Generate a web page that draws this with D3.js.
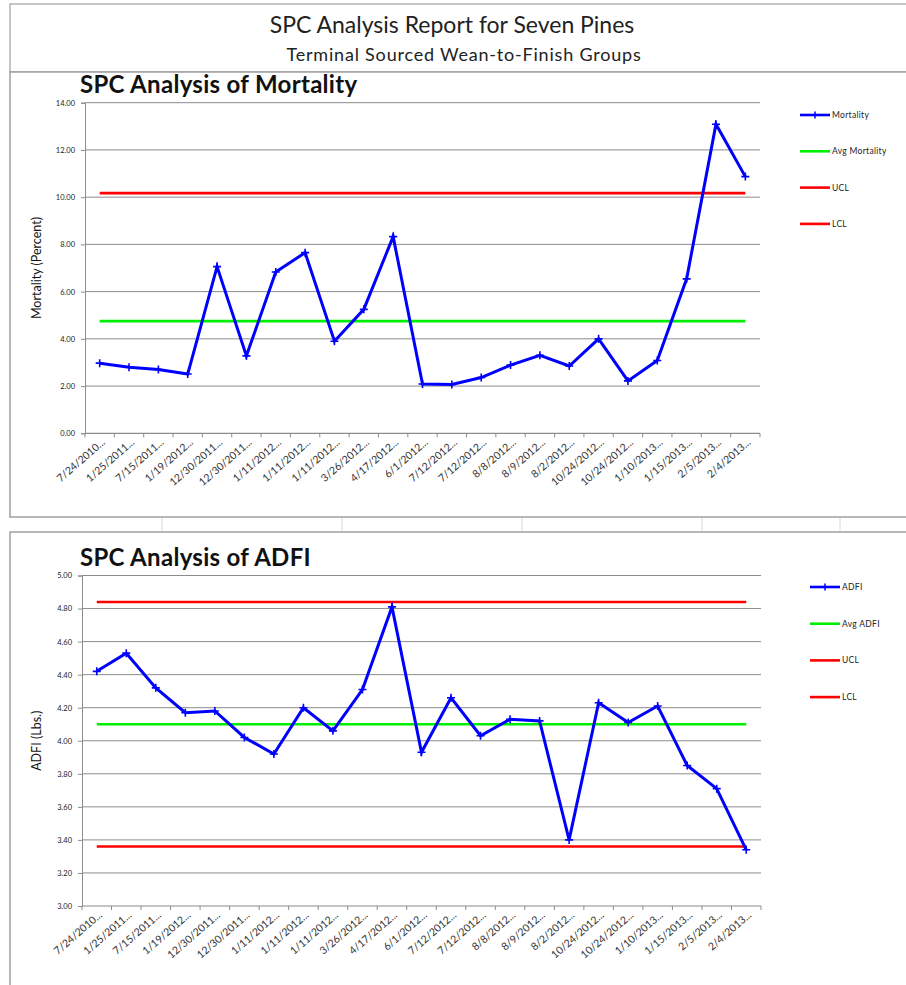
<!DOCTYPE html>
<html>
<head>
<meta charset="utf-8">
<script src="https://cdn.jsdelivr.net/npm/d3@7/dist/d3.min.js"></script>
<style>
  body { margin: 0; background: #fff; }
  svg { display: block; font-family: Lato, "Open Sans", sans-serif; }
</style>
</head>
<body>
<div id="chart"></div>
<script>
// categories (truncated group close dates as shown on the axis)
const groups = [
  "7/24/2010...", "1/25/2011...", "7/15/2011...", "1/19/2012...", "12/30/2011...",
  "12/30/2011...", "1/11/2012...", "1/11/2012...", "1/11/2012...", "3/26/2012...",
  "4/17/2012...", "6/1/2012...", "7/12/2012...", "7/12/2012...", "8/8/2012...",
  "8/9/2012...", "8/2/2012...", "10/24/2012...", "10/24/2012...", "1/10/2013...",
  "1/15/2013...", "2/5/2013...", "2/4/2013..."
];

// mortality (percent)
const mortality = [2.97, 2.80, 2.70, 2.51, 7.06, 3.28, 6.83, 7.65, 3.90, 5.25,
  8.33, 2.09, 2.07, 2.36, 2.89, 3.30, 2.85, 4.00, 2.22, 3.08, 6.54, 13.09, 10.87];
const mortalityAvg = 4.75;
const mortalityUcl = 10.17;
const mortalityLcl = -0.67;
const mortalityTicks = [0, 2, 4, 6, 8, 10, 12, 14];

// ADFI (lbs.)
const adfi = [4.42, 4.53, 4.32, 4.17, 4.18, 4.02, 3.92, 4.20, 4.06, 4.31,
  4.81, 3.93, 4.26, 4.03, 4.13, 4.12, 3.40, 4.23, 4.11, 4.21, 3.85, 3.71, 3.34];
const adfiAvg = 4.10;
const adfiUcl = 4.84;
const adfiLcl = 3.36;
const adfiTicks = [3.0, 3.2, 3.4, 3.6, 3.8, 4.0, 4.2, 4.4, 4.6, 4.8, 5.0];

const width = 906;
const height = 985;

const svg = d3.select("#chart").append("svg")
  .attr("width", width)
  .attr("height", height);

// page frame + header
svg.append("rect")
  .attr("x", 10).attr("y", 4).attr("width", 900).attr("height", 68)
  .attr("fill", "none").attr("stroke", "#a0a0a0").attr("stroke-width", 1.2);

svg.append("text")
  .attr("x", 452).attr("y", 33)
  .attr("text-anchor", "middle")
  .attr("font-size", "23px")
  .attr("fill", "#222")
  .text("SPC Analysis Report for Seven Pines");

svg.append("text")
  .attr("x", 464).attr("y", 61)
  .attr("text-anchor", "middle")
  .attr("font-size", "18px")
  .attr("letter-spacing", "0.8px")
  .attr("fill", "#222")
  .text("Terminal Sourced Wean-to-Finish Groups");

// faint spreadsheet cells between the two charts
const cellLines = [162, 342, 522, 702, 840];
svg.append("g").selectAll("line")
  .data(cellLines)
  .join("line")
  .attr("x1", d => d).attr("x2", d => d)
  .attr("y1", 518).attr("y2", 531)
  .attr("stroke", "#d8d8d8");

function drawPanel(cfg) {
  const g = svg.append("g");

  // chart box
  g.append("rect")
    .attr("x", 10).attr("y", cfg.boxTop).attr("width", 900).attr("height", cfg.boxHeight)
    .attr("fill", "#fff").attr("stroke", "#a0a0a0").attr("stroke-width", 1.5);

  g.append("text")
    .attr("x", 80).attr("y", cfg.titleY)
    .attr("font-size", "24px")
    .attr("font-weight", "bold")
    .attr("letter-spacing", "0.3px")
    .attr("fill", "#111")
    .text(cfg.title);

  const x = d3.scaleBand()
    .domain(d3.range(groups.length))
    .range([cfg.left, cfg.right])
    .padding(0);

  const y = d3.scaleLinear()
    .domain(cfg.domain)
    .range([cfg.bottom, cfg.top]);

  const cx = i => x(i) + x.bandwidth() / 2;

  // gridlines
  g.append("g")
    .selectAll("line")
    .data(cfg.ticks.slice(1))
    .join("line")
    .attr("x1", cfg.left).attr("x2", cfg.right)
    .attr("y1", d => y(d)).attr("y2", d => y(d))
    .attr("stroke", "#8c8c8c").attr("stroke-width", 1);

  // y axis
  const yAxis = g.append("g")
    .attr("transform", `translate(${cfg.left},0)`)
    .call(d3.axisLeft(y).tickValues(cfg.ticks).tickFormat(d3.format(".2f")).tickSize(4).tickPadding(6));
  yAxis.select(".domain").attr("stroke", "#8c8c8c");
  yAxis.selectAll(".tick line").attr("stroke", "#8c8c8c");
  yAxis.selectAll("text")
    .attr("font-size", "7.5px")
    .attr("font-family", "Lato, sans-serif")
    .attr("fill", "#222");

  // x axis (ticks between categories)
  const xAxis = g.append("g")
    .attr("transform", `translate(0,${cfg.bottom})`);
  xAxis.append("line")
    .attr("x1", cfg.left).attr("x2", cfg.right)
    .attr("stroke", "#8c8c8c").attr("stroke-width", 1.2);
  xAxis.selectAll(".xt")
    .data(d3.range(groups.length + 1))
    .join("line")
    .attr("class", "xt")
    .attr("x1", i => cfg.left + i * x.bandwidth())
    .attr("x2", i => cfg.left + i * x.bandwidth())
    .attr("y1", 0).attr("y2", 4)
    .attr("stroke", "#8c8c8c");
  xAxis.selectAll("text")
    .data(groups)
    .join("text")
    .attr("transform", (d, i) => `translate(${cx(i) + 6},${10}) rotate(-41)`)
    .attr("text-anchor", "end")
    .attr("font-size", "10.5px")
    .attr("fill", "#333")
    .text(d => d);

  // y axis title
  g.append("text")
    .attr("transform", `translate(${cfg.yTitleX},${(cfg.top + cfg.bottom) / 2}) rotate(-90)`)
    .attr("text-anchor", "middle")
    .attr("font-size", "12.5px")
    .attr("fill", "#111")
    .text(cfg.yTitle);

  // clip for control limits outside the axis range
  const clipId = "clip-" + cfg.key;
  g.append("clipPath").attr("id", clipId)
    .append("rect")
    .attr("x", cfg.left).attr("y", cfg.top - 2)
    .attr("width", cfg.right - cfg.left).attr("height", cfg.bottom - cfg.top + 2);

  const plot = g.append("g").attr("clip-path", `url(#${clipId})`);

  const line = d3.line()
    .x((d, i) => cx(i))
    .y(d => y(d));

  const limits = [
    { name: "UCL", value: cfg.ucl, color: "#ff0000" },
    { name: "LCL", value: cfg.lcl, color: "#ff0000" },
    { name: cfg.avgName, value: cfg.avg, color: "#00ee00" }
  ];

  plot.selectAll(".limit")
    .data(limits)
    .join("path")
    .attr("class", "limit")
    .attr("d", d => line(groups.map(() => d.value)))
    .attr("fill", "none")
    .attr("stroke", d => d.color)
    .attr("stroke-width", 2.6);

  plot.append("path")
    .attr("d", line(cfg.values))
    .attr("fill", "none")
    .attr("stroke", "#0000ff")
    .attr("stroke-width", 3)
    .attr("stroke-linejoin", "miter");

  // plus markers
  plot.selectAll(".mk")
    .data(cfg.values)
    .join("path")
    .attr("class", "mk")
    .attr("d", (d, i) => {
      const px = cx(i), py = y(d);
      return `M${px - 4},${py}H${px + 4}M${px},${py - 4}V${py + 4}`;
    })
    .attr("stroke", "#0000ff")
    .attr("stroke-width", 1.6);

  // legend
  const legend = [
    { name: cfg.seriesName, color: "#0000ff", marker: true },
    { name: cfg.avgName, color: "#00ee00", marker: false },
    { name: "UCL", color: "#ff0000", marker: false },
    { name: "LCL", color: "#ff0000", marker: false }
  ];
  const lg = g.append("g").selectAll("g")
    .data(legend)
    .join("g")
    .attr("transform", (d, i) => `translate(${cfg.legendX},${cfg.legendY + i * cfg.legendStep})`);
  lg.append("line")
    .attr("x1", 0).attr("x2", 30)
    .attr("stroke", d => d.color)
    .attr("stroke-width", 2.6);
  lg.filter(d => d.marker).append("path")
    .attr("d", "M11,0H19M15,-3.5V3.5")
    .attr("stroke", "#0000ff")
    .attr("stroke-width", 1.5);
  lg.append("text")
    .attr("x", 32).attr("dy", "0.35em")
    .attr("font-size", "8.5px")
    .attr("letter-spacing", "0.3px")
    .attr("fill", "#222")
    .text(d => d.name);
}

drawPanel({
  key: "mort",
  boxTop: 72, boxHeight: 445,
  title: "SPC Analysis of Mortality", titleY: 93,
  left: 85, right: 760, top: 102.7, bottom: 433.3,
  domain: [0, 14], ticks: mortalityTicks,
  values: mortality, avg: mortalityAvg, ucl: mortalityUcl, lcl: mortalityLcl,
  seriesName: "Mortality", avgName: "Avg Mortality",
  yTitle: "Mortality (Percent)", yTitleX: 41,
  legendX: 800, legendY: 115, legendStep: 36.3
});

drawPanel({
  key: "adfi",
  boxTop: 532, boxHeight: 460,
  title: "SPC Analysis of ADFI", titleY: 566,
  left: 82, right: 761, top: 575.5, bottom: 906,
  domain: [3, 5], ticks: adfiTicks,
  values: adfi, avg: adfiAvg, ucl: adfiUcl, lcl: adfiLcl,
  seriesName: "ADFI", avgName: "Avg ADFI",
  yTitle: "ADFI (Lbs.)", yTitleX: 41,
  legendX: 810, legendY: 587, legendStep: 36.7
});
</script>
</body>
</html>
